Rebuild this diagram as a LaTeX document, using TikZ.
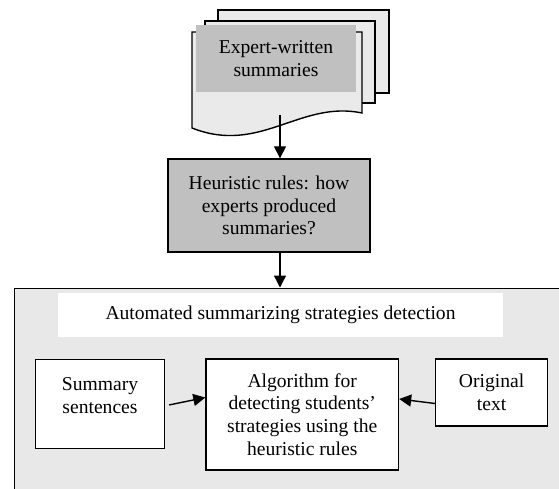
\documentclass[tikz,border=0pt]{standalone}
\usepackage{fontspec}
\setmainfont{Liberation Serif}
\usetikzlibrary{arrows.meta}
\definecolor{sheet}{HTML}{EAEAEA}
\definecolor{shade}{HTML}{C0C0C0}
\definecolor{panelgray}{HTML}{E8E8E8}

\begin{document}
\begin{tikzpicture}
  [x=1pt,y=-1pt,
   font=\fontsize{19.6}{22.7}\selectfont,
   box/.style={draw,line width=1.4pt,fill=white,align=center,inner sep=0pt},
   flow/.style={line width=1.4pt,-{Triangle[width=12pt,length=12pt]}}]
  \useasboundingbox (0,0) rectangle (559,489);
  \clip (0,0) rectangle (559,489);
  % stack of documents
  \draw[line width=1.4pt,fill=sheet] (218,10) rectangle (389,93);
  \draw[line width=1.4pt,fill=sheet] (205,21) rectangle (375,103);
  \draw[line width=1.4pt,fill=sheet]
  (192,32) -- (362,32) -- (362,113)
  .. controls (300,100) and (260,155) .. (192,128) -- cycle;
  \node[fill=shade,minimum width=160,minimum height=67,align=center,inner sep=0pt]
  (expert) at (276,58.5) {Expert-written\\summaries};
  \coordinate (docend) at (280,115);
  \node[box,fill=shade,minimum width=202,minimum height=93] (heur) at (269,205.5)
  {Heuristic rules: how\\experts produced\\summaries?};
  % outer panel
  \node[draw,line width=1.8pt,fill=panelgray,anchor=north west,
  minimum width=600,minimum height=260,inner sep=0pt] (panel) at (13.5,287.5) {};
  \node[fill=white,minimum width=445,minimum height=44,inner sep=0pt] (title)
  at (280.5,315) {Automated summarizing strategies detection};
  \node[box,anchor=north,text width=129,text height=14,text depth=40.5,inner ysep=17]
  (summ) at (100,359) {Summary\\sentences};
  \node[box,minimum width=192.5,minimum height=111] (algo) at (302.25,414.5)
  {Algorithm for\\detecting students'\\strategies using the\\heuristic rules};
  \node[box,minimum width=112,minimum height=67] (orig) at (491.6,392.5)
  {Original\\text};
  % connectors
  \draw[flow] (docend) -- (docend |- heur.north);
  \draw[flow] (heur.south -| docend) -- (docend |- panel.north);
  \draw[flow] ([xshift=4pt,yshift=-1pt]summ.east) -- ([yshift=17pt]algo.west);
  \draw[flow] ([yshift=-11pt]orig.west) -- ([yshift=15.5pt]algo.east);
\end{tikzpicture}
\end{document}
